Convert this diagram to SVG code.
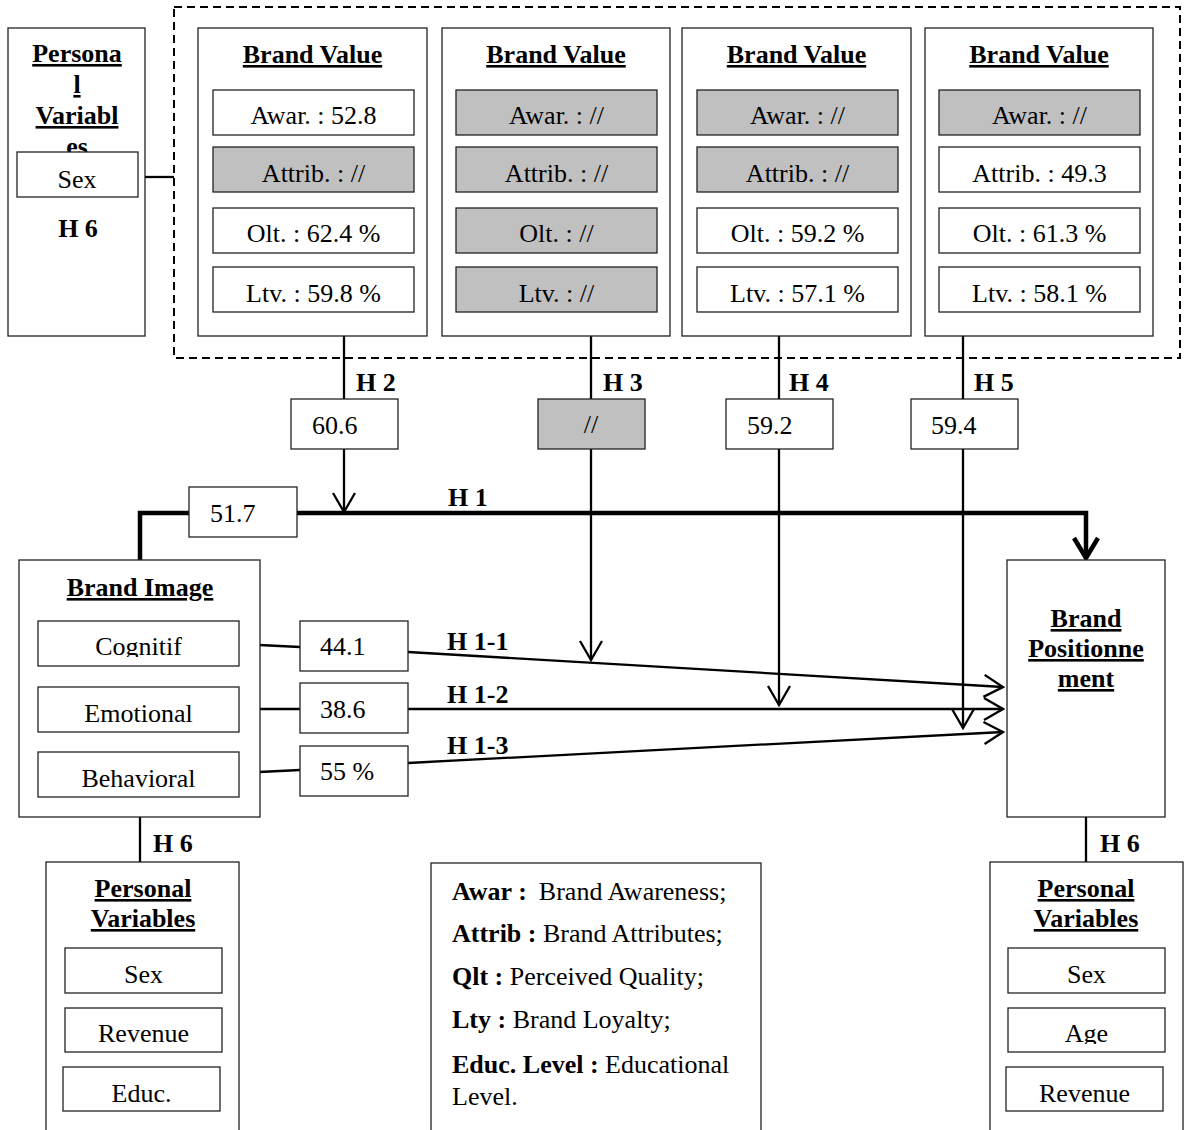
<svg xmlns="http://www.w3.org/2000/svg" width="1184" height="1130" viewBox="0 0 1184 1130">
<style>
.box{fill:#fff;stroke:#222;stroke-width:1.3}
.gray{fill:#c0c0c0;stroke:#222;stroke-width:1.3}
.t{font-family:"Liberation Serif","Times New Roman",serif;font-size:26px;fill:#000}
.c{text-anchor:middle}
.b{font-weight:bold}
.u{text-decoration:underline}
.ln{stroke:#000;stroke-width:2.3;fill:none}
.thick{stroke:#000;stroke-width:4.5;fill:none}
.dash{stroke:#000;stroke-width:2;fill:none;stroke-dasharray:8 5}
</style>
<defs>
<marker id="arr" viewBox="0 0 22 24" refX="20" refY="12" markerWidth="22" markerHeight="24" markerUnits="userSpaceOnUse" orient="auto">
<path d="M1,1 L20,12 L1,23" fill="none" stroke="#000" stroke-width="2.3"/>
</marker>
<marker id="arrT" viewBox="0 0 26 30" refX="22" refY="15" markerWidth="26" markerHeight="30" markerUnits="userSpaceOnUse" orient="auto">
<path d="M2,3 L22,15 L2,27" fill="none" stroke="#000" stroke-width="4.5"/>
</marker>
<clipPath id="clipCog"><rect x="38" y="621" width="201" height="36"/></clipPath>
<clipPath id="clipAge"><rect x="1008" y="1008" width="157" height="36"/></clipPath>
</defs>

<rect id="brand-value-group" class="dash" x="174" y="7" width="1006" height="351"/>

<g id="connectors">
<line class="ln" x1="145" y1="177" x2="174" y2="177"/>
<line class="ln" x1="344" y1="336" x2="344" y2="399"/>
<line class="ln" x1="591" y1="336" x2="591" y2="399"/>
<line class="ln" x1="779" y1="336" x2="779" y2="399"/>
<line class="ln" x1="963" y1="336" x2="963" y2="399"/>
<path class="thick" d="M140,560 V513 H1086 V558" marker-end="url(#arrT)"/>
<line class="ln" x1="344" y1="449" x2="344" y2="512" marker-end="url(#arr)"/>
<line class="ln" x1="591" y1="449" x2="591" y2="660" marker-end="url(#arr)"/>
<line class="ln" x1="779" y1="449" x2="779" y2="705" marker-end="url(#arr)"/>
<line class="ln" x1="963" y1="449" x2="963" y2="728" marker-end="url(#arr)"/>
<line class="ln" x1="239" y1="644" x2="300" y2="647"/>
<line class="ln" x1="239" y1="709" x2="300" y2="709"/>
<line class="ln" x1="239" y1="773" x2="300" y2="770"/>
<line class="ln" x1="408" y1="652" x2="1003" y2="687" marker-end="url(#arr)"/>
<line class="ln" x1="408" y1="709" x2="1003" y2="709" marker-end="url(#arr)"/>
<line class="ln" x1="408" y1="763" x2="1003" y2="732" marker-end="url(#arr)"/>
<line class="ln" x1="140" y1="817" x2="140" y2="862"/>
<line class="ln" x1="1086" y1="817" x2="1086" y2="862"/>
</g>

<g id="labels">
<text class="t b" x="356" y="391">H 2</text>
<text class="t b" x="603" y="391">H 3</text>
<text class="t b" x="789" y="391">H 4</text>
<text class="t b" x="974" y="391">H 5</text>
<text class="t b" x="448" y="506">H 1</text>
<text class="t b" x="447" y="650">H 1-1</text>
<text class="t b" x="447" y="703">H 1-2</text>
<text class="t b" x="447" y="754">H 1-3</text>
<text class="t b" x="153" y="852">H 6</text>
<text class="t b" x="1100" y="852">H 6</text>
</g>

<g id="personal-top">
<rect class="box" x="8" y="28" width="137" height="308"/>
<text class="t b u c" x="77" y="62">Persona</text>
<text class="t b u c" x="77" y="93">l</text>
<text class="t b u c" x="77" y="124">Variabl</text>
<text class="t b u c" x="77" y="155">es</text>
<rect class="box" x="17" y="152" width="121" height="45"/>
<text class="t c" x="77" y="188">Sex</text>
<text class="t b c" x="78" y="237">H 6</text>
</g>

<g id="brand-value-1">
<rect class="box" x="198" y="28" width="229" height="308"/>
<text class="t b u c" x="312.5" y="63">Brand Value</text>
<rect class="box" x="213" y="90" width="201" height="45"/>
<text class="t c" x="313.5" y="124">Awar. : 52.8</text>
<rect class="gray" x="213" y="147" width="201" height="45"/>
<text class="t c" x="313.5" y="182">Attrib. : //</text>
<rect class="box" x="213" y="208" width="201" height="45"/>
<text class="t c" x="313.5" y="242">Olt. : 62.4 %</text>
<rect class="box" x="213" y="267" width="201" height="45"/>
<text class="t c" x="313.5" y="302">Ltv. : 59.8 %</text>
</g>

<g id="brand-value-2">
<rect class="box" x="442" y="28" width="228" height="308"/>
<text class="t b u c" x="556" y="63">Brand Value</text>
<rect class="gray" x="456" y="90" width="201" height="45"/>
<text class="t c" x="556.5" y="124">Awar. : //</text>
<rect class="gray" x="456" y="147" width="201" height="45"/>
<text class="t c" x="556.5" y="182">Attrib. : //</text>
<rect class="gray" x="456" y="208" width="201" height="45"/>
<text class="t c" x="556.5" y="242">Olt. : //</text>
<rect class="gray" x="456" y="267" width="201" height="45"/>
<text class="t c" x="556.5" y="302">Ltv. : //</text>
</g>

<g id="brand-value-3">
<rect class="box" x="682" y="28" width="229" height="308"/>
<text class="t b u c" x="796.5" y="63">Brand Value</text>
<rect class="gray" x="697" y="90" width="201" height="45"/>
<text class="t c" x="797.5" y="124">Awar. : //</text>
<rect class="gray" x="697" y="147" width="201" height="45"/>
<text class="t c" x="797.5" y="182">Attrib. : //</text>
<rect class="box" x="697" y="208" width="201" height="45"/>
<text class="t c" x="797.5" y="242">Olt. : 59.2 %</text>
<rect class="box" x="697" y="267" width="201" height="45"/>
<text class="t c" x="797.5" y="302">Ltv. : 57.1 %</text>
</g>

<g id="brand-value-4">
<rect class="box" x="925" y="28" width="228" height="308"/>
<text class="t b u c" x="1039" y="63">Brand Value</text>
<rect class="gray" x="939" y="90" width="201" height="45"/>
<text class="t c" x="1039.5" y="124">Awar. : //</text>
<rect class="box" x="939" y="147" width="201" height="45"/>
<text class="t c" x="1039.5" y="182">Attrib. : 49.3</text>
<rect class="box" x="939" y="208" width="201" height="45"/>
<text class="t c" x="1039.5" y="242">Olt. : 61.3 %</text>
<rect class="box" x="939" y="267" width="201" height="45"/>
<text class="t c" x="1039.5" y="302">Ltv. : 58.1 %</text>
</g>

<g id="h2-value"><rect class="box" x="291" y="399" width="107" height="50"/><text class="t" x="312" y="434">60.6</text></g>
<g id="h3-value"><rect class="gray" x="538" y="399" width="107" height="50"/><text class="t c" x="591" y="433">//</text></g>
<g id="h4-value"><rect class="box" x="726" y="399" width="107" height="50"/><text class="t" x="747" y="434">59.2</text></g>
<g id="h5-value"><rect class="box" x="911" y="399" width="107" height="50"/><text class="t" x="931" y="434">59.4</text></g>
<g id="h1-value"><rect class="box" x="189" y="487" width="108" height="50"/><text class="t" x="210" y="522">51.7</text></g>

<g id="brand-image">
<rect class="box" x="19" y="560" width="241" height="257"/>
<text class="t b u c" x="140" y="596">Brand Image</text>
<rect class="box" x="38" y="621" width="201" height="45"/>
<text class="t c" x="138.5" y="655" clip-path="url(#clipCog)">Cognitif</text>
<rect class="box" x="38" y="687" width="201" height="45"/>
<text class="t c" x="138.5" y="722">Emotional</text>
<rect class="box" x="38" y="752" width="201" height="45"/>
<text class="t c" x="138.5" y="787">Behavioral</text>
</g>

<g id="h11-value"><rect class="box" x="300" y="621" width="108" height="50"/><text class="t" x="320" y="655">44.1</text></g>
<g id="h12-value"><rect class="box" x="300" y="683" width="108" height="50"/><text class="t" x="320" y="718">38.6</text></g>
<g id="h13-value"><rect class="box" x="300" y="746" width="108" height="50"/><text class="t" x="320" y="780">55 %</text></g>

<g id="brand-positionnement">
<rect class="box" x="1007" y="560" width="158" height="257"/>
<text class="t b u c" x="1086" y="627">Brand</text>
<text class="t b u c" x="1086" y="657">Positionne</text>
<text class="t b u c" x="1086" y="687">ment</text>
</g>

<g id="personal-left">
<rect class="box" x="46" y="862" width="193" height="280"/>
<text class="t b u c" x="143" y="897">Personal</text>
<text class="t b u c" x="143" y="927">Variables</text>
<rect class="box" x="65" y="948" width="157" height="45"/>
<text class="t c" x="143.5" y="983">Sex</text>
<rect class="box" x="65" y="1008" width="157" height="44"/>
<text class="t c" x="143.5" y="1042">Revenue</text>
<rect class="box" x="63" y="1067" width="157" height="44"/>
<text class="t c" x="141.5" y="1102">Educ.</text>
</g>

<g id="legend">
<rect class="box" x="431" y="863" width="330" height="280"/>
<text class="t" x="452" y="900"><tspan class="b">Awar :</tspan><tspan dx="12">Brand Awareness;</tspan></text>
<text class="t" x="452" y="942"><tspan class="b">Attrib :</tspan> Brand Attributes;</text>
<text class="t" x="452" y="985"><tspan class="b">Qlt :</tspan> Perceived Quality;</text>
<text class="t" x="452" y="1028"><tspan class="b">Lty :</tspan> Brand Loyalty;</text>
<text class="t" x="452" y="1073"><tspan class="b">Educ. Level :</tspan> Educational</text>
<text class="t" x="452" y="1105">Level.</text>
</g>

<g id="personal-right">
<rect class="box" x="990" y="862" width="193" height="280"/>
<text class="t b u c" x="1086" y="897">Personal</text>
<text class="t b u c" x="1086" y="927">Variables</text>
<rect class="box" x="1008" y="948" width="157" height="45"/>
<text class="t c" x="1086.5" y="983">Sex</text>
<rect class="box" x="1008" y="1008" width="157" height="44"/>
<text class="t c" x="1086.5" y="1042" clip-path="url(#clipAge)">Age</text>
<rect class="box" x="1006" y="1067" width="157" height="44"/>
<text class="t c" x="1084.5" y="1102">Revenue</text>
</g>
</svg>
